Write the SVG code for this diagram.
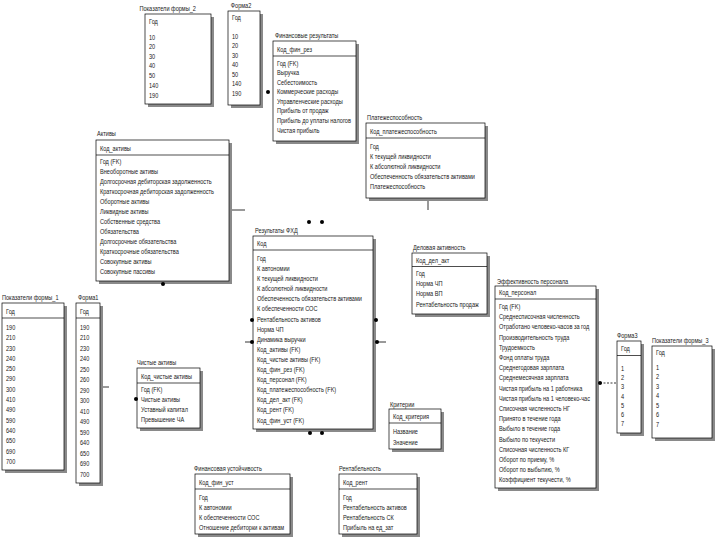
<svg xmlns="http://www.w3.org/2000/svg" width="720" height="540" viewBox="0 0 720 540">
<style>
.bx{fill:#fff;stroke:#000;stroke-width:0.7}
.sh{fill:#8a8a8a}
.sep{stroke:#000;stroke-width:0.7}
text{font-family:"Liberation Sans",Arial,sans-serif;font-size:8px;fill:#1a1a1a}
.cn{stroke:#000;stroke-width:0.8;fill:none}
.dot{fill:#000}
.dash{stroke-dasharray:2 1.5}
</style>
<rect width="720" height="540" fill="#fff"/>

<g id="pokazateli_formy_2">
<rect class="sh" x="148" y="17" width="66" height="90"/>
<rect class="bx" x="145" y="14" width="66" height="90"/>
<g transform="translate(145 0) scale(0.7 1)">
<text x="-8" y="11">Показатели формы_2</text>
<text x="5.7" y="24">Год</text>
<text x="5.7" y="40">10</text><text x="5.7" y="49.5">20</text><text x="5.7" y="59">30</text><text x="5.7" y="68.5">40</text><text x="5.7" y="78">50</text><text x="5.7" y="88">140</text><text x="5.7" y="98">190</text>
</g>
</g>

<g id="forma2">
<rect class="sh" x="231" y="14" width="32" height="94"/>
<rect class="bx" x="228" y="11" width="32" height="94"/>
<g transform="translate(228 0) scale(0.7 1)">
<text x="4" y="8">Форма2</text>
<text x="5.7" y="20">Год</text>
<text x="5.7" y="39">10</text><text x="5.7" y="48.5">20</text><text x="5.7" y="58">30</text><text x="5.7" y="67.5">40</text><text x="5.7" y="77">50</text><text x="5.7" y="86.5">140</text><text x="5.7" y="96">190</text>
</g>
</g>

<g id="fin_rez">
<rect class="sh" x="276" y="44" width="83" height="100"/>
<rect class="bx" x="273" y="41" width="83" height="100"/>
<line class="sep" x1="273" y1="56" x2="356" y2="56"/>
<g transform="translate(273 0) scale(0.7 1)">
<text x="2.8" y="38">Финансовые результаты</text>
<text x="5.7" y="52">Код_фин_рез</text>
<text x="5.7" y="66">Год (FK)</text>
<text x="5.7" y="75.5">Выручка</text>
<text x="5.7" y="85">Себестоимость</text>
<text x="5.7" y="94.5">Коммерческие расходы</text>
<text x="5.7" y="104">Управленческие расходы</text>
<text x="5.7" y="113.5">Прибыль от продаж</text>
<text x="5.7" y="123">Прибыль до уплаты налогов</text>
<text x="5.7" y="133">Чистая прибыль</text>
</g>
</g>

<g id="aktivy">
<rect class="sh" x="99" y="143" width="133" height="141"/>
<rect class="bx" x="96" y="140" width="133" height="141"/>
<line class="sep" x1="96" y1="155" x2="229" y2="155"/>
<g transform="translate(96 0) scale(0.7 1)">
<text x="1.4" y="136">Активы</text>
<text x="5.7" y="151">Код_активы</text>
<text x="5.7" y="164.5">Год (FK)</text>
<text x="5.7" y="174.5">Внеоборотные активы</text>
<text x="5.7" y="184.5">Долгосрочная дебиторская задолженность</text>
<text x="5.7" y="194.5">Краткосрочная дебиторская задолженность</text>
<text x="5.7" y="204.5">Оборотные активы</text>
<text x="5.7" y="214.5">Ликвидные активы</text>
<text x="5.7" y="224.5">Собственные средства</text>
<text x="5.7" y="234.5">Обязательства</text>
<text x="5.7" y="244.5">Долгосрочные обязательства</text>
<text x="5.7" y="254.5">Краткосрочные обязательства</text>
<text x="5.7" y="264.5">Совокупные активы</text>
<text x="5.7" y="274.5">Совокупные пассивы</text>
</g>
</g>

<g id="platezhesposobnost">
<rect class="sh" x="369" y="126" width="119" height="75"/>
<rect class="bx" x="366" y="123" width="119" height="75"/>
<line class="sep" x1="366" y1="138" x2="485" y2="138"/>
<g transform="translate(366 0) scale(0.7 1)">
<text x="1.4" y="120">Платежеспособность</text>
<text x="5.7" y="134">Код_платежеспособность</text>
<text x="5.7" y="149">Год</text>
<text x="5.7" y="159">К текущей ликвидности</text>
<text x="5.7" y="169">К абсолютной ликвидности</text>
<text x="5.7" y="179">Обеспеченность обязательств активами</text>
<text x="5.7" y="189">Платежеспособность</text>
</g>
</g>

<g id="rezultaty_fhd">
<rect class="sh" x="256" y="239" width="120" height="193"/>
<rect class="bx" x="253" y="236" width="120" height="193"/>
<line class="sep" x1="253" y1="250" x2="373" y2="250"/>
<g transform="translate(253 0) scale(0.7 1)">
<text x="2.8" y="233">Результаты ФХД</text>
<text x="5.7" y="246">Код</text>
<text x="5.7" y="261">Год</text>
<text x="5.7" y="271.1">К автономии</text>
<text x="5.7" y="281.2">К текущей ликвидности</text>
<text x="5.7" y="291.3">К абсолютной ликвидности</text>
<text x="5.7" y="301.4">Обеспеченность обязательств активами</text>
<text x="5.7" y="311.5">К обеспеченности СОС</text>
<text x="5.7" y="321.6">Рентабельность активов</text>
<text x="5.7" y="331.7">Норма ЧП</text>
<text x="5.7" y="341.8">Динамика выручки</text>
<text x="5.7" y="351.9">Код_активы (FK)</text>
<text x="5.7" y="362">Код_чистые активы (FK)</text>
<text x="5.7" y="372.1">Код_фин_рез (FK)</text>
<text x="5.7" y="382.2">Код_персонал (FK)</text>
<text x="5.7" y="392.3">Код_платежеспособность (FK)</text>
<text x="5.7" y="402.4">Код_дел_акт (FK)</text>
<text x="5.7" y="412.5">Код_рент (FK)</text>
<text x="5.7" y="422.6">Код_фин_уст (FK)</text>
</g>
</g>

<g id="delovaya_aktivnost">
<rect class="sh" x="415" y="256" width="75" height="61"/>
<rect class="bx" x="412" y="253" width="75" height="61"/>
<line class="sep" x1="412" y1="266.5" x2="487" y2="266.5"/>
<g transform="translate(412 0) scale(0.7 1)">
<text x="1.4" y="250">Деловая активность</text>
<text x="5.7" y="263">Код_дел_акт</text>
<text x="5.7" y="276">Год</text>
<text x="5.7" y="286">Норма ЧП</text>
<text x="5.7" y="296">Норма ВП</text>
<text x="5.7" y="307">Рентабельность продаж</text>
</g>
</g>

<g id="effektivnost_personala">
<rect class="sh" x="498" y="289" width="101" height="202"/>
<rect class="bx" x="495" y="286" width="101" height="202"/>
<line class="sep" x1="495" y1="299" x2="596" y2="299"/>
<g transform="translate(495 0) scale(0.7 1)">
<text x="2.8" y="284">Эффективность персонала</text>
<text x="5.7" y="295">Код_персонал</text>
<text x="5.7" y="309">Год (FK)</text>
<text x="5.7" y="319.2">Среднесписочная численность</text>
<text x="5.7" y="329.4">Отработано человеко-часов за год</text>
<text x="5.7" y="339.6">Производительность труда</text>
<text x="5.7" y="349.8">Трудоемкость</text>
<text x="5.7" y="360">Фонд оплаты труда</text>
<text x="5.7" y="370.2">Среднегодовая зарплата</text>
<text x="5.7" y="380.4">Среднемесячная зарплата</text>
<text x="5.7" y="390.6">Чистая прибыль на 1 работника</text>
<text x="5.7" y="400.8">Чистая прибыль на 1 человеко-час</text>
<text x="5.7" y="411">Списочная численность НГ</text>
<text x="5.7" y="421.2">Принято в течение года</text>
<text x="5.7" y="431.4">Выбыло в течение года</text>
<text x="5.7" y="441.6">Выбыло по текучести</text>
<text x="5.7" y="451.8">Списочная численность КГ</text>
<text x="5.7" y="462">Оборот по приему, %</text>
<text x="5.7" y="472.2">Оборот по выбытию, %</text>
<text x="5.7" y="482.4">Коэффициент текучести, %</text>
</g>
</g>

<g id="forma3">
<rect class="sh" x="620" y="344" width="24" height="92"/>
<rect class="bx" x="617" y="341" width="24" height="92"/>
<line class="sep" x1="617" y1="355.5" x2="641" y2="355.5"/>
<g transform="translate(617 0) scale(0.7 1)">
<text x="0" y="338">Форма3</text>
<text x="5.7" y="351">Год</text>
<text x="5.7" y="371">1</text><text x="5.7" y="380.2">2</text><text x="5.7" y="389.4">3</text><text x="5.7" y="398.6">4</text><text x="5.7" y="407.8">5</text><text x="5.7" y="417">6</text><text x="5.7" y="426.2">7</text>
</g>
</g>

<g id="pokazateli_formy_3">
<rect class="sh" x="655" y="349" width="60" height="92"/>
<rect class="bx" x="652" y="346" width="60" height="92"/>
<g transform="translate(652 0) scale(0.7 1)">
<text x="0" y="343">Показатели формы_3</text>
<text x="5.7" y="355">Год</text>
<text x="5.7" y="370">1</text><text x="5.7" y="379.5">2</text><text x="5.7" y="389">3</text><text x="5.7" y="398.5">4</text><text x="5.7" y="408">5</text><text x="5.7" y="417.5">6</text><text x="5.7" y="427">7</text>
</g>
</g>

<g id="pokazateli_formy_1">
<rect class="sh" x="5" y="306" width="62" height="167"/>
<rect class="bx" x="2" y="303" width="62" height="167"/>
<line class="sep" x1="2" y1="318" x2="64" y2="318"/>
<g transform="translate(2 0) scale(0.7 1)">
<text x="0" y="300">Показатели формы_1</text>
<text x="5.7" y="314">Год</text>
<text x="5.7" y="330">190</text><text x="5.7" y="340.3">210</text><text x="5.7" y="350.6">230</text><text x="5.7" y="360.9">240</text><text x="5.7" y="371.2">250</text><text x="5.7" y="381.5">290</text><text x="5.7" y="391.8">300</text><text x="5.7" y="402.1">410</text><text x="5.7" y="412.4">490</text><text x="5.7" y="422.7">590</text><text x="5.7" y="433">640</text><text x="5.7" y="443.3">650</text><text x="5.7" y="453.6">690</text><text x="5.7" y="463.9">700</text>
</g>
</g>

<g id="forma1">
<rect class="sh" x="79" y="306" width="24" height="180"/>
<rect class="bx" x="76" y="303" width="24" height="180"/>
<line class="sep" x1="76" y1="318" x2="100" y2="318"/>
<g transform="translate(76 0) scale(0.7 1)">
<text x="2.8" y="300">Форма1</text>
<text x="5.7" y="314">Год</text>
<text x="5.7" y="330">190</text><text x="5.7" y="340.5">210</text><text x="5.7" y="351">230</text><text x="5.7" y="361.5">240</text><text x="5.7" y="372">250</text><text x="5.7" y="382.5">260</text><text x="5.7" y="393">290</text><text x="5.7" y="403.5">300</text><text x="5.7" y="414">410</text><text x="5.7" y="424.5">490</text><text x="5.7" y="435">590</text><text x="5.7" y="445.5">640</text><text x="5.7" y="456">650</text><text x="5.7" y="466.5">690</text><text x="5.7" y="477">700</text>
</g>
</g>

<g id="chistye_aktivy">
<rect class="sh" x="140" y="371" width="63" height="60"/>
<rect class="bx" x="137" y="368" width="63" height="60"/>
<line class="sep" x1="137" y1="383" x2="200" y2="383"/>
<g transform="translate(137 0) scale(0.7 1)">
<text x="0" y="365">Чистые активы</text>
<text x="5.7" y="379">Код_чистые активы</text>
<text x="5.7" y="392">Год (FK)</text>
<text x="5.7" y="402">Чистые активы</text>
<text x="5.7" y="412">Уставный капитал</text>
<text x="5.7" y="422">Превышение ЧА</text>
</g>
</g>

<g id="kriterii">
<rect class="sh" x="392" y="412" width="52" height="40"/>
<rect class="bx" x="389" y="409" width="52" height="40"/>
<line class="sep" x1="389" y1="423" x2="441" y2="423"/>
<g transform="translate(389 0) scale(0.7 1)">
<text x="1.4" y="407">Критерии</text>
<text x="5.7" y="419">Код_критерия</text>
<text x="5.7" y="434">Название</text>
<text x="5.7" y="445">Значение</text>
</g>
</g>

<g id="fin_ustoichivost">
<rect class="sh" x="198" y="477" width="95" height="60"/>
<rect class="bx" x="195" y="474" width="95" height="60"/>
<line class="sep" x1="195" y1="489" x2="290" y2="489"/>
<g transform="translate(195 0) scale(0.7 1)">
<text x="-1.4" y="471">Финансовая устойчивость</text>
<text x="5.7" y="485">Код_фин_уст</text>
<text x="5.7" y="500">Год</text>
<text x="5.7" y="510">К автономии</text>
<text x="5.7" y="520">К обеспеченности СОС</text>
<text x="5.7" y="530">Отношение дебиторки к активам</text>
</g>
</g>

<g id="rentabelnost">
<rect class="sh" x="342" y="477" width="78" height="60"/>
<rect class="bx" x="339" y="474" width="78" height="60"/>
<line class="sep" x1="339" y1="489" x2="417" y2="489"/>
<g transform="translate(339 0) scale(0.7 1)">
<text x="0" y="471">Рентабельность</text>
<text x="5.7" y="485">Код_рент</text>
<text x="5.7" y="500">Год</text>
<text x="5.7" y="510">Рентабельность активов</text>
<text x="5.7" y="520">Рентабельность СК</text>
<text x="5.7" y="530">Прибыль на ед_зат</text>
</g>
</g>

<g id="connectors">
<circle class="dot" cx="268" cy="92" r="2"/>
<line class="cn" x1="232" y1="210" x2="245" y2="210"/>
<line class="cn" x1="428" y1="201" x2="428" y2="210"/>
<circle class="dot" cx="309" cy="222" r="2"/>
<circle class="dot" cx="322" cy="222" r="2"/>
<circle class="dot" cx="252" cy="320" r="2"/>
<line class="cn" x1="245" y1="342" x2="253" y2="342"/>
<circle class="dot" cx="252" cy="342" r="2"/>
<circle class="dot" cx="376" cy="320" r="2"/>
<circle class="dot" cx="377" cy="342" r="2"/>
<line class="cn" x1="377" y1="342" x2="386" y2="342"/>
<circle class="dot" cx="310" cy="433" r="2"/>
<circle class="dot" cx="322" cy="433" r="2"/>
<circle class="dot" cx="163" cy="284" r="2"/>
<circle class="dot" cx="136" cy="399" r="2"/>
<line class="cn" x1="103" y1="387" x2="109" y2="387"/>
<circle class="dot" cx="600" cy="383" r="2"/>
<line class="cn dash" x1="600" y1="383" x2="617" y2="383"/>
</g>
</svg>
